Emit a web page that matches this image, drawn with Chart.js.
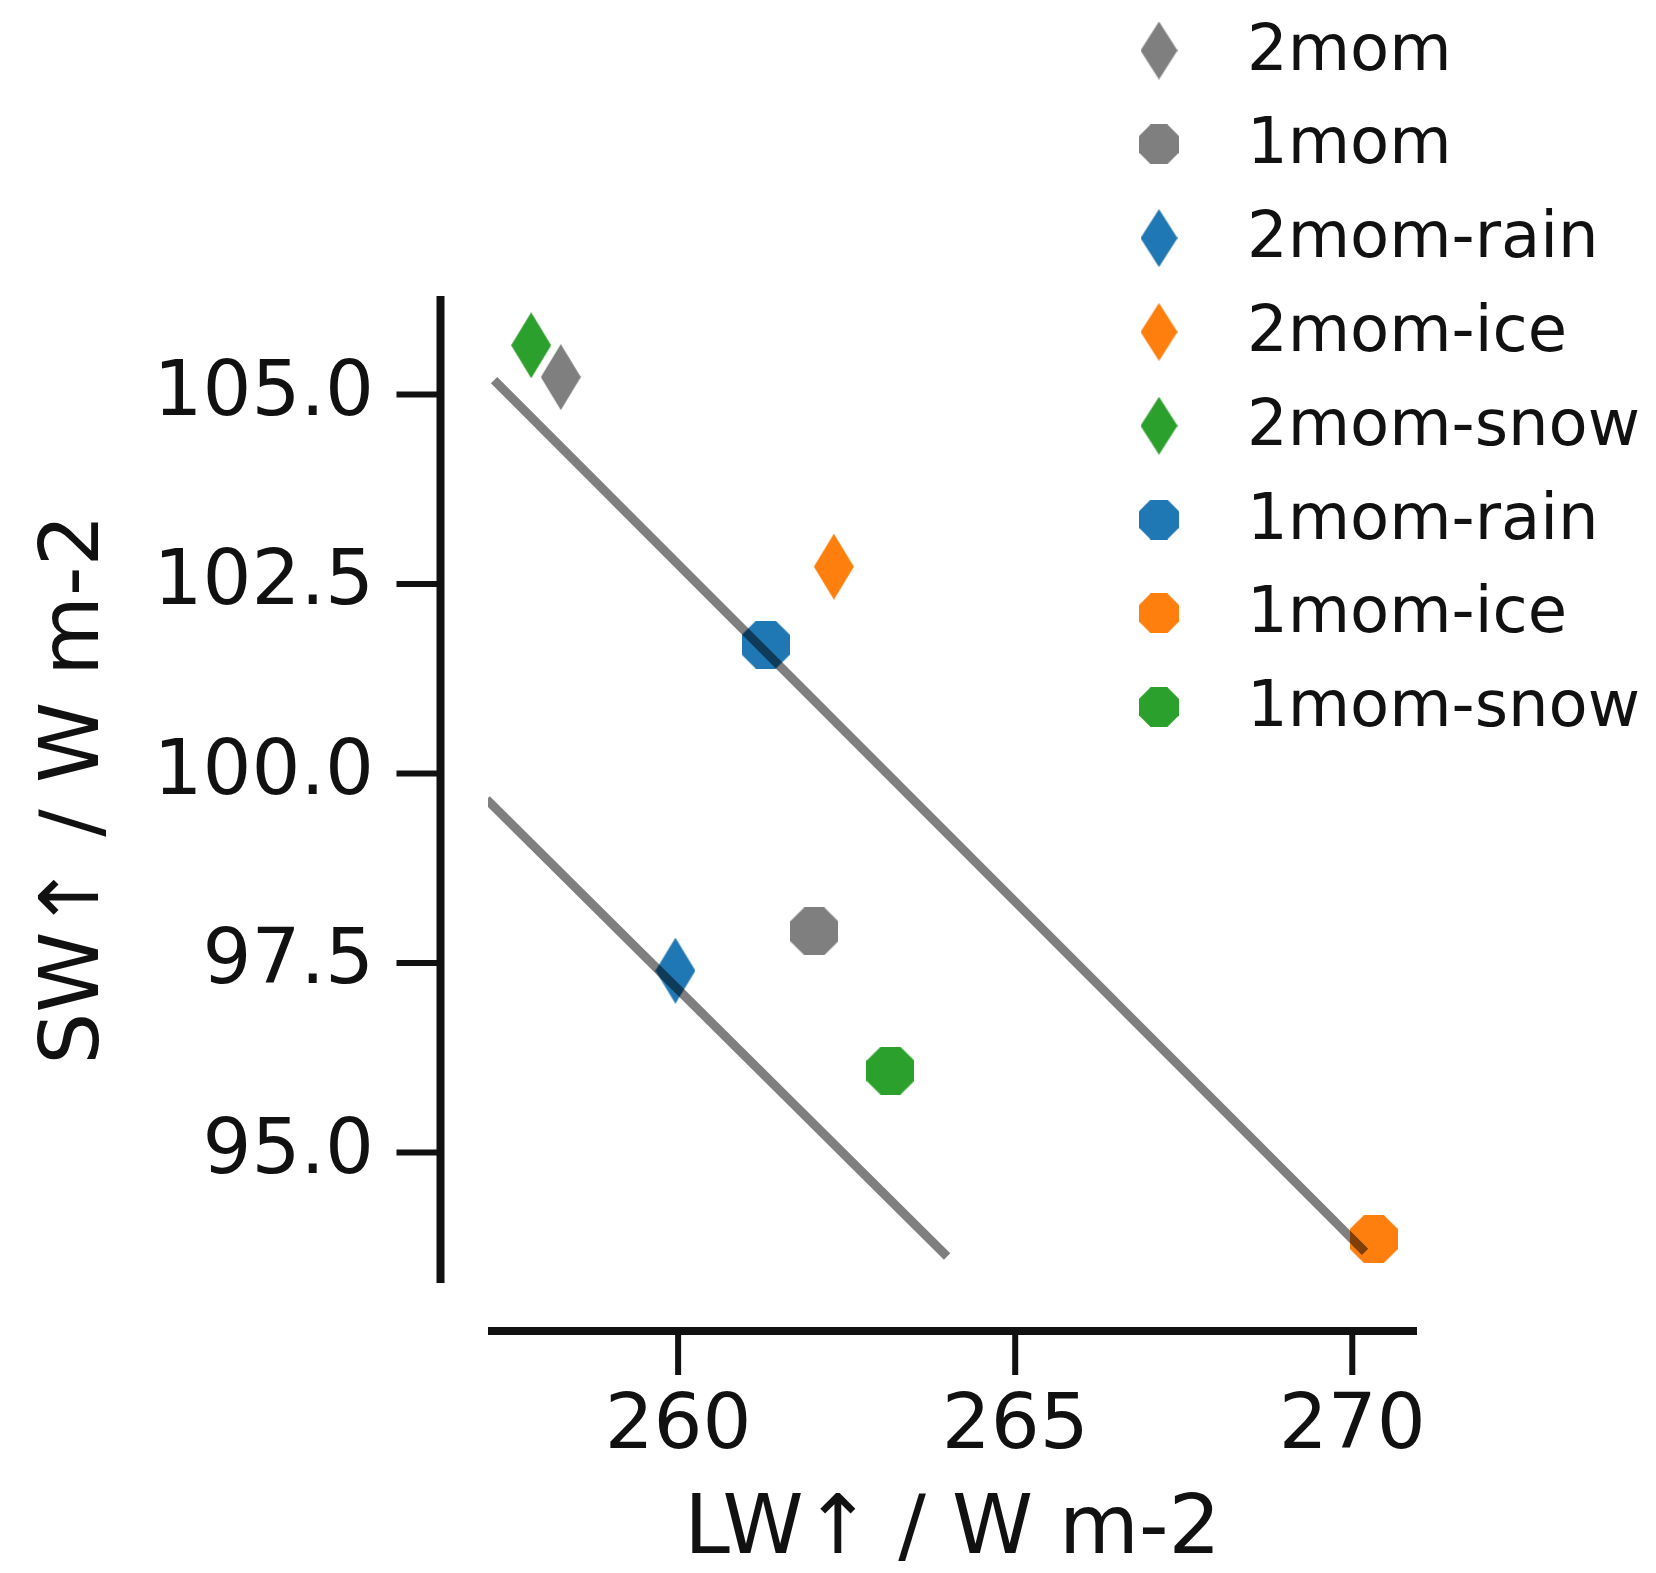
<!DOCTYPE html>
<html>
<head>
<meta charset="utf-8">
<script src="https://cdn.jsdelivr.net/npm/chart.js@4.4.1/dist/chart.umd.min.js"></script>
<style>
  html, body { margin: 0; padding: 0; background: #fff; }
  #wrap { width: 1656px; height: 1573px; position: relative; }
</style>
</head>
<body>
<div id="wrap"><canvas id="chart"></canvas></div>
<script>
// === Data ===
const SERIES = ['2mom', '1mom', '2mom-rain', '2mom-ice', '2mom-snow', '1mom-rain', '1mom-ice', '1mom-snow'];
const LW_UP = [258.26, 262.02, 259.96, 262.31, 257.82, 261.30, 270.32, 263.15];
const SW_UP = [105.23, 97.92, 97.40, 102.73, 105.65, 101.70, 93.86, 96.08];
const COLORS = ['#7f7f7f', '#7f7f7f', '#1f77b4', '#ff7f0e', '#2ca02c', '#1f77b4', '#ff7f0e', '#2ca02c'];
const MARKERS = ['diamond', 'octagon', 'diamond', 'diamond', 'diamond', 'octagon', 'octagon', 'octagon'];

// fitted lines, endpoints
const FIT_UPPER_X = [257.27, 270.19];
const FIT_UPPER_Y = [105.19, 93.69];
const FIT_LOWER_X = [257.16, 263.99];
const FIT_LOWER_Y = [99.66, 93.63];

const X_TICKS = [260, 265, 270];
const X_TICK_LABELS = ['260', '265', '270'];
const Y_TICKS = [95, 97.5, 100, 102.5, 105];
const Y_TICK_LABELS = ['95.0', '97.5', '100.0', '102.5', '105.0'];
const X_TITLE = 'LW\u2191 / W m-2';
const Y_TITLE = 'SW\u2191 / W m-2';

// === Look ===
const X_MIN = 257.18, X_MAX = 270.96;
const Y_MIN = 93.28, Y_MAX = 106.30;
const FONT = "'DejaVu Sans', sans-serif";
const INK = '#111';
const SPINE_GAP_X = 48;    // x spine below plot area
const SPINE_GAP_Y = 47.5;  // y spine left of plot area
const TICK_LEN = 44;
const SPINE_W = 8, TICK_W = 6;

function markerImage(shape, color, w, h) {
    const c = document.createElement('canvas');
    c.width = w;
    c.height = h;
    const g = c.getContext('2d');
    g.fillStyle = color;
    g.beginPath();
    if (shape === 'diamond') {
        g.moveTo(w / 2, 0);
        g.lineTo(w, h / 2);
        g.lineTo(w / 2, h);
        g.lineTo(0, h / 2);
    } else {
        const r = (w / 2) / Math.cos(Math.PI / 8);
        for (let i = 0; i < 8; i++) {
            const a = Math.PI / 8 + i * Math.PI / 4;
            g.lineTo(w / 2 + r * Math.cos(a), h / 2 + r * Math.sin(a));
        }
    }
    g.closePath();
    g.fill();
    return c;
}

const plotMarks = MARKERS.map((m, i) => m === 'diamond'
    ? markerImage('diamond', COLORS[i], 40, 66)
    : markerImage('octagon', COLORS[i], 48, 48));
const legendMarks = MARKERS.map((m, i) => m === 'diamond'
    ? markerImage('diamond', COLORS[i], 37, 58)
    : markerImage('octagon', COLORS[i], 40, 40));

const pointSets = SERIES.map((name, i) => ({
    label: name,
    data: [{ x: LW_UP[i], y: SW_UP[i] }],
    pointStyle: plotMarks[i],
    pointRadius: 24,
    backgroundColor: COLORS[i],
    order: 1
}));

const fitSet = (xs, ys) => ({
    label: 'fit',
    data: xs.map((x, k) => ({ x, y: ys[k] })),
    showLine: true,
    pointRadius: 0,
    borderColor: 'rgba(0,0,0,0.5)',
    borderWidth: 9,
    order: 0
});

// offset spines with outward ticks (seaborn despine look)
const spines = {
    id: 'spines',
    afterDraw(chart) {
        const { ctx, chartArea: a, scales: { x, y } } = chart;
        const sx = a.left - SPINE_GAP_Y;
        const sy = a.bottom + SPINE_GAP_X;
        const seg = (x1, y1, x2, y2) => {
            ctx.beginPath();
            ctx.moveTo(x1, y1);
            ctx.lineTo(x2, y2);
            ctx.stroke();
        };
        ctx.save();
        ctx.strokeStyle = INK;
        ctx.lineCap = 'butt';
        ctx.lineWidth = SPINE_W;
        seg(sx, a.top, sx, a.bottom);
        seg(a.left, sy, a.right, sy);
        ctx.lineWidth = TICK_W;
        y.ticks.forEach(t => {
            const p = y.getPixelForValue(t.value);
            seg(sx - TICK_LEN, p, sx, p);
        });
        x.ticks.forEach(t => {
            const p = x.getPixelForValue(t.value);
            seg(p, sy, p, sy + TICK_LEN);
        });
        ctx.restore();
    }
};

// legend stacked at the top right, outside the plot area
const sideLegend = {
    id: 'sideLegend',
    afterDraw(chart) {
        const ctx = chart.ctx;
        ctx.save();
        ctx.font = `64px ${FONT}`;
        ctx.fillStyle = INK;
        ctx.textAlign = 'left';
        ctx.textBaseline = 'alphabetic';
        SERIES.forEach((name, i) => {
            const base = 69.5 + i * 93.8;
            const img = legendMarks[i];
            ctx.drawImage(img, 1159 - img.width / 2, base - 19 - img.height / 2);
            ctx.fillText(name, 1247, base);
        });
        ctx.restore();
    }
};

new Chart(document.getElementById('chart'), {
    type: 'scatter',
    data: {
        datasets: [fitSet(FIT_UPPER_X, FIT_UPPER_Y), fitSet(FIT_LOWER_X, FIT_LOWER_Y), ...pointSets]
    },
    options: {
        responsive: true,
        maintainAspectRatio: false,
        animation: false,
        events: [],
        layout: { padding: { left: 0, top: 296, right: 239, bottom: 0 } },
        plugins: {
            legend: { display: false },
            tooltip: { enabled: false }
        },
        scales: {
            x: {
                type: 'linear',
                min: X_MIN,
                max: X_MAX,
                afterFit: (s) => { s.height = 290; },
                afterBuildTicks: (s) => { s.ticks = X_TICKS.map(v => ({ value: v })); },
                border: { display: false },
                grid: {
                    drawOnChartArea: false,
                    color: 'rgba(0,0,0,0)',
                    tickLength: SPINE_GAP_X + TICK_LEN
                },
                ticks: {
                    autoSkip: false,
                    maxRotation: 0,
                    padding: 14,
                    color: INK,
                    font: { family: FONT, size: 77, lineHeight: 1 },
                    callback: (v, i) => X_TICK_LABELS[i]
                },
                title: {
                    display: true,
                    text: X_TITLE,
                    color: INK,
                    font: { family: FONT, size: 82, lineHeight: 1 },
                    padding: { top: 0, bottom: 0 }
                }
            },
            y: {
                type: 'linear',
                min: Y_MIN,
                max: Y_MAX,
                afterFit: (s) => { s.width = 488; },
                afterBuildTicks: (s) => { s.ticks = Y_TICKS.map(v => ({ value: v })); },
                border: { display: false },
                grid: {
                    drawOnChartArea: false,
                    color: 'rgba(0,0,0,0)',
                    tickLength: SPINE_GAP_Y + 43.5
                },
                ticks: {
                    autoSkip: false,
                    padding: 23,
                    color: INK,
                    font: { family: FONT, size: 77, lineHeight: 1 },
                    callback: (v, i) => Y_TICK_LABELS[i]
                },
                title: {
                    display: true,
                    text: Y_TITLE,
                    color: INK,
                    font: { family: FONT, size: 82, lineHeight: 1 },
                    padding: { top: 36, bottom: 0 }
                }
            }
        }
    },
    plugins: [spines, sideLegend]
});
</script>
</body>
</html>
